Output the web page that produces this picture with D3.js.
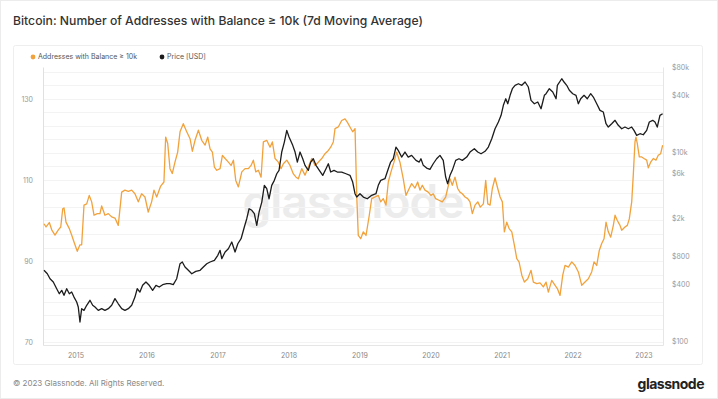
<!DOCTYPE html>
<html>
<head>
<meta charset="utf-8">
<script src="https://cdn.jsdelivr.net/npm/d3@7"></script>
<style>
  body { margin: 0; background: #fff; }
  svg { display: block; font-family: Inter, "Noto Sans", sans-serif; }
</style>
</head>
<body>
<div id="chart"></div>
<script>
// values, [decimal year, value]
var addrSeries = [
  [2014.556, 99.2], [2014.585, 98.4], [2014.631, 99.5], [2014.665, 97.7], [2014.711, 96.4],
  [2014.758, 97.7], [2014.792, 98.4], [2014.820, 102.9], [2014.838, 103.1], [2014.866, 99.6],
  [2014.913, 98.0], [2014.946, 96.4], [2014.979, 94.7], [2015.025, 92.4], [2015.063, 94.0],
  [2015.087, 94.0], [2015.120, 103.8], [2015.158, 104.1], [2015.194, 106.2], [2015.228, 104.6],
  [2015.261, 101.3], [2015.307, 101.7], [2015.345, 101.7], [2015.369, 103.6], [2015.415, 101.3],
  [2015.462, 101.7], [2015.510, 100.9], [2015.556, 100.6], [2015.603, 98.8], [2015.651, 107.0],
  [2015.697, 107.5], [2015.744, 107.2], [2015.792, 107.5], [2015.838, 106.6], [2015.885, 104.6],
  [2015.932, 106.6], [2015.979, 105.8], [2016.025, 102.1], [2016.073, 104.6], [2016.106, 107.5],
  [2016.144, 105.8], [2016.200, 108.5], [2016.246, 109.5], [2016.270, 120.6], [2016.299, 119.0],
  [2016.331, 112.8], [2016.363, 111.6], [2016.401, 114.4], [2016.439, 116.9], [2016.472, 121.9],
  [2016.518, 123.9], [2016.566, 121.9], [2016.613, 120.2], [2016.645, 117.1], [2016.683, 119.8],
  [2016.730, 122.3], [2016.777, 119.8], [2016.824, 118.6], [2016.862, 120.6], [2016.894, 117.7],
  [2016.927, 116.9], [2016.955, 113.2], [2016.989, 112.4], [2017.035, 112.8], [2017.068, 116.1],
  [2017.106, 115.3], [2017.152, 114.4], [2017.190, 113.6], [2017.223, 114.9], [2017.256, 109.9],
  [2017.293, 108.3], [2017.341, 112.0], [2017.387, 112.8], [2017.434, 112.8], [2017.472, 113.6],
  [2017.504, 114.9], [2017.538, 112.0], [2017.575, 112.4], [2017.613, 110.7], [2017.645, 119.4],
  [2017.693, 119.8], [2017.739, 118.1], [2017.772, 119.4], [2017.810, 115.3], [2017.856, 114.4],
  [2017.894, 112.8], [2017.927, 114.0], [2017.975, 114.9], [2018.021, 113.6], [2018.068, 111.5],
  [2018.106, 110.7], [2018.138, 110.3], [2018.186, 112.8], [2018.232, 111.2], [2018.279, 113.2],
  [2018.327, 115.3], [2018.373, 113.6], [2018.420, 114.4], [2018.468, 115.3], [2018.514, 116.5],
  [2018.561, 117.3], [2018.594, 118.1], [2018.631, 119.4], [2018.655, 122.7], [2018.701, 123.1],
  [2018.749, 124.7], [2018.796, 125.1], [2018.828, 124.3], [2018.866, 123.1], [2018.904, 121.9],
  [2018.937, 122.7], [2018.961, 106.2], [2018.983, 96.3], [2019.017, 95.5], [2019.054, 97.2],
  [2019.092, 96.3], [2019.138, 101.3], [2019.172, 105.4], [2019.218, 105.8], [2019.265, 106.2],
  [2019.299, 104.6], [2019.335, 105.4], [2019.373, 103.8], [2019.406, 109.5], [2019.444, 112.0],
  [2019.486, 114.4], [2019.524, 116.9], [2019.570, 114.4], [2019.617, 110.3], [2019.655, 106.2],
  [2019.701, 107.9], [2019.735, 109.1], [2019.782, 108.0], [2019.820, 109.5], [2019.852, 107.5],
  [2019.885, 108.7], [2019.923, 107.5], [2019.969, 107.0], [2020.007, 106.2], [2020.039, 106.6],
  [2020.073, 105.4], [2020.120, 105.0], [2020.166, 104.6], [2020.214, 105.8], [2020.242, 107.9],
  [2020.275, 110.3], [2020.307, 108.7], [2020.345, 110.7], [2020.383, 107.9], [2020.415, 107.0],
  [2020.448, 106.6], [2020.486, 105.8], [2020.524, 105.4], [2020.556, 104.6], [2020.589, 101.7],
  [2020.627, 103.8], [2020.665, 104.6], [2020.701, 103.3], [2020.744, 104.1], [2020.777, 109.9],
  [2020.806, 104.1], [2020.838, 103.8], [2020.870, 107.9], [2020.908, 110.5], [2020.946, 107.9],
  [2020.979, 105.8], [2021.011, 104.6], [2021.039, 97.2], [2021.073, 99.6], [2021.106, 98.0],
  [2021.144, 97.2], [2021.180, 93.9], [2021.214, 90.6], [2021.246, 89.8], [2021.285, 86.5],
  [2021.321, 84.8], [2021.369, 85.6], [2021.415, 87.7], [2021.448, 84.8], [2021.496, 84.4],
  [2021.542, 84.6], [2021.589, 83.6], [2021.627, 84.8], [2021.659, 82.3], [2021.707, 85.2],
  [2021.754, 84.0], [2021.786, 83.2], [2021.824, 81.5], [2021.862, 86.5], [2021.894, 88.9],
  [2021.941, 88.5], [2021.989, 89.8], [2022.035, 88.9], [2022.082, 87.3], [2022.130, 84.0],
  [2022.176, 84.8], [2022.223, 85.6], [2022.270, 87.3], [2022.303, 89.8], [2022.341, 88.9],
  [2022.377, 92.6], [2022.411, 94.3], [2022.444, 95.5], [2022.472, 99.6], [2022.504, 97.2],
  [2022.538, 95.9], [2022.575, 98.8], [2022.599, 101.3], [2022.631, 100.0], [2022.669, 98.8],
  [2022.693, 97.6], [2022.739, 98.4], [2022.772, 98.8], [2022.800, 100.4], [2022.834, 104.6],
  [2022.856, 111.2], [2022.880, 119.4], [2022.894, 120.6], [2022.913, 119.0], [2022.941, 115.7],
  [2022.975, 115.7], [2023.007, 115.3], [2023.045, 114.9], [2023.068, 113.0], [2023.101, 114.4],
  [2023.138, 115.3], [2023.176, 114.9], [2023.208, 116.1], [2023.242, 116.5], [2023.270, 118.6]
];

var priceSeries = [
  [2014.556, 561], [2014.603, 516], [2014.641, 457], [2014.687, 422], [2014.735, 358],
  [2014.772, 317], [2014.806, 344], [2014.838, 305], [2014.876, 358], [2014.913, 317],
  [2014.946, 330], [2014.979, 292], [2015.017, 259], [2015.039, 229], [2015.063, 159],
  [2015.087, 220], [2015.120, 211], [2015.158, 239], [2015.204, 270], [2015.242, 239],
  [2015.275, 229], [2015.321, 211], [2015.369, 220], [2015.415, 211], [2015.462, 220],
  [2015.510, 239], [2015.556, 281], [2015.603, 248], [2015.651, 220], [2015.697, 211],
  [2015.744, 220], [2015.792, 239], [2015.838, 292], [2015.870, 358], [2015.908, 330],
  [2015.946, 389], [2015.993, 422], [2016.039, 389], [2016.087, 344], [2016.134, 389],
  [2016.180, 373], [2016.228, 395], [2016.285, 405], [2016.331, 405], [2016.377, 395],
  [2016.425, 457], [2016.472, 659], [2016.504, 687], [2016.542, 608], [2016.589, 561],
  [2016.637, 516], [2016.693, 547], [2016.754, 561], [2016.800, 608], [2016.848, 659],
  [2016.894, 687], [2016.955, 716], [2017.003, 809], [2017.035, 914], [2017.059, 745],
  [2017.106, 877], [2017.152, 950], [2017.200, 1119], [2017.246, 877], [2017.285, 1073],
  [2017.331, 1213], [2017.377, 1614], [2017.411, 1976], [2017.444, 2520], [2017.482, 2425],
  [2017.518, 2232], [2017.552, 1681], [2017.585, 2327], [2017.623, 2966], [2017.659, 4460],
  [2017.693, 4105], [2017.725, 3215], [2017.763, 4460], [2017.800, 5037], [2017.834, 5916],
  [2017.866, 6430], [2017.904, 10050], [2017.941, 12820], [2017.975, 17060], [2018.007, 14490],
  [2018.059, 11830], [2018.092, 10050], [2018.124, 7870], [2018.162, 10050], [2018.200, 8530],
  [2018.232, 7260], [2018.279, 6430], [2018.313, 7870], [2018.349, 8530], [2018.387, 7260],
  [2018.434, 6430], [2018.482, 5690], [2018.528, 6690], [2018.561, 7550], [2018.594, 6170],
  [2018.641, 6430], [2018.687, 6170], [2018.749, 6170], [2018.810, 5916], [2018.866, 5690],
  [2018.904, 4835], [2018.937, 3634], [2018.961, 3352], [2019.007, 3634], [2019.054, 3352],
  [2019.110, 3215], [2019.172, 3494], [2019.232, 3634], [2019.265, 4460], [2019.299, 5037],
  [2019.359, 5240], [2019.406, 6690], [2019.439, 7870], [2019.476, 8530], [2019.514, 11350],
  [2019.546, 10470], [2019.594, 8890], [2019.641, 10050], [2019.687, 8890], [2019.735, 9270],
  [2019.796, 8200], [2019.842, 7870], [2019.866, 8530], [2019.899, 7260], [2019.946, 6800],
  [2019.993, 6590], [2020.039, 7550], [2020.087, 8530], [2020.134, 9270], [2020.180, 8200],
  [2020.214, 5460], [2020.242, 4640], [2020.275, 5690], [2020.307, 6430], [2020.355, 8200],
  [2020.401, 8530], [2020.448, 8200], [2020.510, 8890], [2020.556, 10050], [2020.617, 10890],
  [2020.665, 10050], [2020.711, 9640], [2020.768, 10230], [2020.814, 11350], [2020.862, 13900],
  [2020.908, 17740], [2020.955, 20890], [2020.993, 24600], [2021.025, 31400], [2021.059, 36880],
  [2021.087, 32660], [2021.120, 40090], [2021.152, 47100], [2021.190, 51170], [2021.237, 53200],
  [2021.285, 51170], [2021.331, 55460], [2021.377, 49090], [2021.415, 35460], [2021.462, 32660],
  [2021.510, 34040], [2021.556, 28900], [2021.580, 34040], [2021.603, 40090], [2021.627, 41690],
  [2021.673, 47100], [2021.721, 43450], [2021.768, 36880], [2021.786, 51170], [2021.848, 60080],
  [2021.880, 55460], [2021.918, 51170], [2021.955, 45290], [2022.003, 41690], [2022.049, 40090],
  [2022.082, 32660], [2022.115, 36880], [2022.162, 40090], [2022.208, 36880], [2022.256, 41690],
  [2022.293, 38450], [2022.341, 32660], [2022.387, 27790], [2022.434, 26660], [2022.472, 20040],
  [2022.504, 18490], [2022.552, 20040], [2022.599, 21780], [2022.645, 19280], [2022.693, 17740],
  [2022.739, 18490], [2022.786, 17740], [2022.834, 18490], [2022.866, 17060], [2022.904, 15100],
  [2022.951, 15700], [2022.997, 15320], [2023.045, 17060], [2023.082, 20890], [2023.130, 21780],
  [2023.162, 20890], [2023.194, 18490], [2023.232, 24600], [2023.270, 25590]
];

var leftTicks = [70, 90, 110, 130];
var rightTicks = [100, 400, 800, 2000, 6000, 10000, 40000, 80000];
var rightTickLabels = ["$100", "$400", "$800", "$2k", "$6k", "$10k", "$40k", "$80k"];
var xStart = 2014.542, xEnd = 2023.275;
var leftDomain = [69.26, 137.9];
var rightDomain = [90.7, 80000];

var title = "Bitcoin: Number of Addresses with Balance \u2265 10k (7d Moving Average)";
var legendNames = ["Addresses with Balance \u2265 10k", "Price [USD]"];
var colors = ["#f2a23c", "#1c1c1c"];

function toDate(y) {
  var yr = Math.floor(y);
  var a = Date.UTC(yr, 0, 1), b = Date.UTC(yr + 1, 0, 1);
  return new Date(a + (y - yr) * (b - a));
}

var W = 718, H = 399;
var plot = { left: 43, right: 663, top: 67, bottom: 345 };

var svg = d3.select("#chart").append("svg")
  .attr("width", W)
  .attr("height", H);

svg.append("rect")
  .attr("x", 0.5).attr("y", 0.5)
  .attr("width", W - 1).attr("height", H - 1)
  .attr("fill", "#fff").attr("stroke", "#ececec");

svg.append("text")
  .attr("x", 13).attr("y", 25)
  .attr("fill", "#333")
  .style("font-size", "12.2px")
  .style("font-weight", 500)
  .text(title);

// card
svg.append("rect")
  .attr("x", 13.5).attr("y", 45.5)
  .attr("width", 689).attr("height", 319)
  .attr("rx", 2)
  .attr("fill", "#fff").attr("stroke", "#eeeeee");

var xScale = d3.scaleUtc().domain([toDate(xStart), toDate(xEnd)]).range([plot.left, plot.right]);
var yLeft = d3.scaleLinear().domain(leftDomain).range([plot.bottom, plot.top]);
var yRight = d3.scaleLog().domain(rightDomain).range([plot.bottom, plot.top]);

// legend
var legend = svg.append("g").attr("transform", "translate(33,57)");
var legX = [0, 129];
legendNames.forEach(function(name, i) {
  legend.append("circle").attr("cx", legX[i]).attr("cy", 0).attr("r", 2.4).attr("fill", colors[i]);
  legend.append("text")
    .attr("x", legX[i] + 5).attr("y", 0).attr("dy", "0.35em")
    .attr("fill", "#555")
    .style("font-size", "7px")
    .text(name);
});

// watermark
svg.append("text")
  .attr("x", (plot.left + plot.right) / 2).attr("y", 218)
  .attr("text-anchor", "middle")
  .attr("fill", "#ececec")
  .style("font-size", "46px")
  .style("font-weight", 600)
  .style("letter-spacing", "-1px")
  .text("glassnode");

// grid
var gridVals = d3.range(0, 21).map(function(k) { return 70 + k * 20 / 6; })
  .filter(function(v) { return v <= leftDomain[1]; });
svg.append("g").selectAll("line")
  .data(gridVals)
  .enter().append("line")
  .attr("x1", plot.left).attr("x2", plot.right)
  .attr("y1", function(d) { return Math.round(yLeft(d)) + 0.5; })
  .attr("y2", function(d) { return Math.round(yLeft(d)) + 0.5; })
  .attr("stroke", "#f3f3f3");

// axes
var xAxis = svg.append("g")
  .attr("transform", "translate(0," + plot.bottom + ")")
  .call(d3.axisBottom(xScale).ticks(d3.utcYear.every(1)).tickFormat(d3.utcFormat("%Y")).tickSize(0).tickPadding(8));
xAxis.select(".domain").attr("stroke", "#e6e6e6");
xAxis.selectAll("text").attr("fill", "#888").style("font-size", "7px").style("font-family", "Inter, sans-serif");

var lAxis = svg.append("g")
  .attr("transform", "translate(" + plot.left + ",0)")
  .call(d3.axisLeft(yLeft).tickValues(leftTicks).tickSize(0).tickPadding(10));
lAxis.select(".domain").attr("stroke", "#f7dcb4");
lAxis.selectAll("text").attr("fill", "#999").style("font-size", "7px").style("font-family", "Inter, sans-serif");

var rAxis = svg.append("g")
  .attr("transform", "translate(" + plot.right + ",0)")
  .call(d3.axisRight(yRight).tickValues(rightTicks)
    .tickFormat(function(d, i) { return rightTickLabels[i]; }).tickSize(0).tickPadding(9));
rAxis.select(".domain").attr("stroke", "#e6e6e6");
rAxis.selectAll("text").attr("fill", "#999").style("font-size", "7px").style("font-family", "Inter, sans-serif");

svg.append("clipPath").attr("id", "clip")
  .append("rect")
  .attr("x", plot.left).attr("y", plot.top)
  .attr("width", plot.right - plot.left).attr("height", plot.bottom - plot.top);

var addrLine = d3.line()
  .x(function(d) { return xScale(toDate(d[0])); })
  .y(function(d) { return yLeft(d[1]); });

var priceLine = d3.line()
  .x(function(d) { return xScale(toDate(d[0])); })
  .y(function(d) { return yRight(d[1]); });

var lines = svg.append("g").attr("clip-path", "url(#clip)");
lines.append("path")
  .attr("d", addrLine(addrSeries))
  .attr("fill", "none")
  .attr("stroke", colors[0])
  .attr("stroke-width", 1.3)
  .attr("stroke-linejoin", "round");
lines.append("path")
  .attr("d", priceLine(priceSeries))
  .attr("fill", "none")
  .attr("stroke", colors[1])
  .attr("stroke-width", 1.3)
  .attr("stroke-linejoin", "round");

// footer
svg.append("text")
  .attr("x", 13).attr("y", 386)
  .attr("fill", "#888")
  .style("font-size", "8px")
  .text("\u00a9 2023 Glassnode. All Rights Reserved.");

svg.append("text")
  .attr("x", 704).attr("y", 389)
  .attr("text-anchor", "end")
  .attr("fill", "#222")
  .style("font-size", "14px")
  .style("font-weight", 700)
  .style("letter-spacing", "-0.5px")
  .text("glassnode");
</script>
</body>
</html>
